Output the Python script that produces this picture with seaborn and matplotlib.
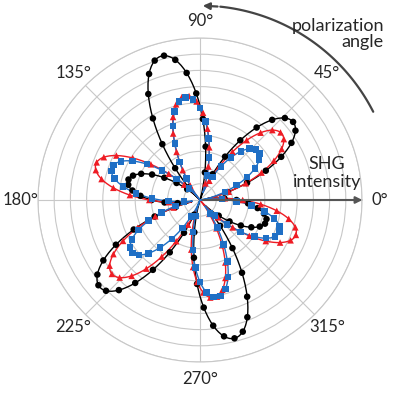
import numpy as np
import pandas as pd
import seaborn as sns
import matplotlib.pyplot as plt

# lobe directions (deg) and lobe amplitudes (fraction of outer ring)
black_angles = [40, 105, 165, 221, 284, 342]
black_amps = [0.71, 0.88, 0.42, 0.78, 0.84, 0.39]
red_angles = [39, 98, 161, 220, 278, 340]
red_amps = [0.61, 0.61, 0.64, 0.67, 0.57, 0.59]
blue_angles = [40, 98, 160, 217, 280, 338]
blue_amps = [0.43, 0.60, 0.54, 0.49, 0.57, 0.49]
tick_angles = [0, 45, 90, 135, 180, 225, 270, 315]


def lobe_curve(angles, amps, theta_deg):
    r = np.zeros_like(theta_deg, dtype=float)
    for a, amp in zip(angles, amps):
        d = (theta_deg - a + 180) % 360 - 180
        inside = np.abs(d) < 30
        r = np.where(inside, amp * np.abs(np.cos(np.radians(3 * d))) ** 1.4 + 0.04, r)
    return r


sns.set_style("white")
plt.rcParams["font.family"] = ["Lato", "DejaVu Sans"]

fig = plt.figure(figsize=(4, 4), dpi=100)
ax = fig.add_axes([0.095, 0.095, 0.81, 0.81], projection="polar")

fine = np.arange(0, 360.5, 1.0)
meas = np.arange(0, 360, 4.0)
series = [
    (black_angles, black_amps, "black", "o", 0),
    (red_angles, red_amps, "#ee1c24", "^", 0),
    (blue_angles, blue_amps, "#1f6fc5", "s", 2.0),
]
for angles, amps, color, marker, off in series:
    sns.lineplot(x=np.radians(fine), y=lobe_curve(angles, amps, fine), sort=False,
                 color=color, lw=1.0, ax=ax, estimator=None)
    m = meas + off
    rm = lobe_curve(angles, amps, m)
    keep = rm > 0.09
    sns.scatterplot(x=np.radians(m[keep]), y=rm[keep], color=color,
                    marker=marker, s=22, edgecolor="none", ax=ax, zorder=3)

ax.set_ylim(0, 1)
ax.set_yticks(np.linspace(0.1, 1, 10))
ax.set_yticklabels([])
ax.set_xticks(np.radians(tick_angles))
ax.set_xticklabels([f"{t}°" for t in tick_angles], fontsize=12)
ax.tick_params(axis="x", pad=2)
ax.grid(color="#c8c8c8", lw=0.8)
ax.spines["polar"].set_color("#c8c8c8")
ax.set_xlabel("")
ax.set_ylabel("")

# SHG intensity arrow along 0 deg
ax.annotate("", xy=(0, 1.02), xytext=(0, 0), xycoords="data",
            arrowprops=dict(arrowstyle="-|>", color="#555555", lw=1.5), annotation_clip=False)
ax.text(np.radians(12), 0.8, "SHG\nintensity", ha="center", va="center", fontsize=13)

# polarization angle arc
arc = np.radians(np.linspace(27, 84, 60))
ax.plot(arc, np.full_like(arc, 1.2), color="#444444", lw=1.6, clip_on=False)
ax.annotate("", xy=(np.radians(90), 1.2), xytext=(np.radians(84), 1.2),
            arrowprops=dict(arrowstyle="-|>", color="#444444", lw=1.6), annotation_clip=False)
fig.text(0.96, 0.915, "polarization\nangle", ha="right", va="center", fontsize=13, linespacing=0.95)

fig.savefig("out.png", dpi=100)
